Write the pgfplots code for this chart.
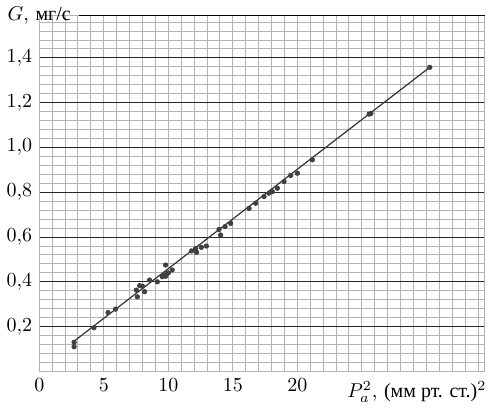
\documentclass[border=0pt]{standalone}
\usepackage{fontspec}
\newfontfamily\cyr{Liberation Serif}
\usepackage{pgfplots}
\pgfplotsset{compat=1.18}
\begin{document}
\begin{tikzpicture}
\begin{axis}[
  scale only axis,
  width=222bp, height=177.5bp,
  xmin=0, xmax=34.5, ymin=0, ymax=1.59,
  xtick={0,5,10,15,20},
  ytick={0.2,0.4,0.6,0.8,1.0,1.2,1.4},
  minor xtick={0,1,2,3,4,5,6,7,8,9,10,11,12,13,14,15,16,17,18,19,20,21,22,23,24,25,26,27,28,29,30,31,32,33,34},
  minor ytick={0,0.04,0.08,0.12,0.16,0.24,0.28,0.32,0.36,0.44,0.48,0.52,0.56,0.64,0.68,0.72,0.76,0.84,0.88,0.92,0.96,1.04,1.08,1.12,1.16,1.24,1.28,1.32,1.36,1.44,1.48,1.52,1.56},
  xminorgrids, yminorgrids, ymajorgrids,
  major tick length=0pt, minor tick length=0pt,
  minor grid style={gray!60, line width=0.5pt},
  major grid style={black!85, line width=0.55pt},
  axis line style={gray!60, line width=0.5pt},
  yticklabel style={/pgf/number format/.cd, fixed, fixed zerofill, precision=1, use comma},
  xticklabel style={/pgf/number format/.cd, fixed},
  xlabel={$P_a^2$, {\cyr (мм рт. ст.)}$^2$},
  xlabel style={at={(rel axis cs:1.02,0)}, anchor=north east, yshift=-1.5pt},
  ylabel={$G$, {\cyr мг/с}},
  ylabel style={at={(rel axis cs:0,1)}, anchor=center, rotate=-90, xshift=0pt},
  clip=false,
]
\addplot[black, line width=0.8pt, forget plot] coordinates {(3.1,1.59) (34.5,1.59)};
\addplot[black!80, line width=0.6pt] coordinates {(2.7,0.135) (30.3,1.36)};
\addplot[only marks, mark=*, mark size=1.1pt, black!75] coordinates {
(2.7,0.13) (2.7,0.11) (4.24,0.195) (5.33,0.263) (5.91,0.278)
(7.6,0.333) (7.52,0.363) (7.78,0.383) (8.0,0.38) (8.16,0.356) (8.55,0.408)
(9.15,0.40) (9.53,0.423) (9.79,0.475) (9.67,0.43) (9.92,0.438) (9.8,0.425) (10.0,0.44) (10.3,0.453)
(11.8,0.538) (12.19,0.532) (12.12,0.549) (12.56,0.554) (12.95,0.56)
(13.93,0.634) (14.05,0.609) (14.4,0.647) (14.83,0.661)
(16.26,0.728) (16.77,0.751) (17.42,0.781) (17.8,0.796) (18.06,0.803)
(18.45,0.818) (18.97,0.848) (19.48,0.875) (20.0,0.885) (21.16,0.945)
(25.56,1.149) (25.7,1.152) (30.26,1.358)
};
\end{axis}
\end{tikzpicture}
\end{document}
